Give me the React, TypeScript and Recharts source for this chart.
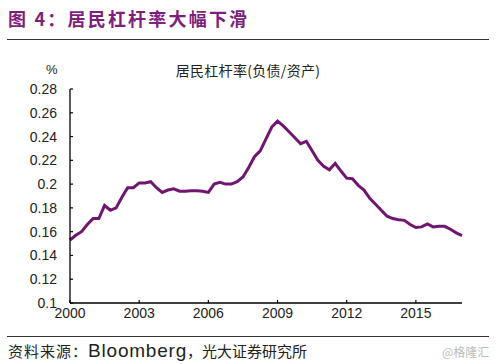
import React from "react";
import { LineChart, Line, XAxis, YAxis } from "recharts";

const quarters: string[] = [
  "2000Q1", "2000Q2", "2000Q3", "2000Q4",
  "2001Q1", "2001Q2", "2001Q3", "2001Q4",
  "2002Q1", "2002Q2", "2002Q3", "2002Q4",
  "2003Q1", "2003Q2", "2003Q3", "2003Q4",
  "2004Q1", "2004Q2", "2004Q3", "2004Q4",
  "2005Q1", "2005Q2", "2005Q3", "2005Q4",
  "2006Q1", "2006Q2", "2006Q3", "2006Q4",
  "2007Q1", "2007Q2", "2007Q3", "2007Q4",
  "2008Q1", "2008Q2", "2008Q3", "2008Q4",
  "2009Q1", "2009Q2", "2009Q3", "2009Q4",
  "2010Q1", "2010Q2", "2010Q3", "2010Q4",
  "2011Q1", "2011Q2", "2011Q3", "2011Q4",
  "2012Q1", "2012Q2", "2012Q3", "2012Q4",
  "2013Q1", "2013Q2", "2013Q3", "2013Q4",
  "2014Q1", "2014Q2", "2014Q3", "2014Q4",
  "2015Q1", "2015Q2", "2015Q3", "2015Q4",
  "2016Q1", "2016Q2", "2016Q3", "2016Q4",
  "2017Q1",
];

const leverage: number[] = [
  0.153, 0.157, 0.160, 0.166,
  0.171, 0.171, 0.182, 0.178,
  0.180, 0.189, 0.197, 0.197,
  0.201, 0.201, 0.202, 0.197,
  0.193, 0.195, 0.196, 0.194,
  0.194, 0.1945, 0.1945, 0.194,
  0.193, 0.200, 0.2015, 0.200,
  0.200, 0.202, 0.206, 0.214,
  0.223, 0.228, 0.238, 0.248,
  0.253, 0.249, 0.244, 0.239,
  0.234, 0.236, 0.228, 0.220,
  0.215, 0.212, 0.2175, 0.211,
  0.205, 0.2045, 0.199, 0.195,
  0.188, 0.183, 0.178, 0.173,
  0.171, 0.170, 0.1695, 0.166,
  0.1635, 0.164, 0.1665, 0.164,
  0.1645, 0.1645, 0.162, 0.159,
  0.1566,
];

const xTicks: string[] = ["2000Q1", "2003Q1", "2006Q1", "2009Q1", "2012Q1", "2015Q1"];
const yTicks: number[] = [0.1, 0.12, 0.14, 0.16, 0.18, 0.2, 0.22, 0.24, 0.26, 0.28];

const data = quarters.map((q, i) => ({ q, v: leverage[i] }));

const LATIN = "'Liberation Sans', Arial, sans-serif";
const CJK = "'Noto Sans CJK SC', 'Liberation Sans', sans-serif";

const XTick = (props: any) => {
  const { x, y, payload } = props;
  return (
    <g>
      <line x1={x} x2={x} y1={y} y2={y - 3} stroke="#000" strokeWidth={1.2} />
      <text x={x} y={y + 15} textAnchor="middle" fontSize={14} fontFamily={LATIN} fill="#222">
        {String(payload.value).slice(0, 4)}
      </text>
    </g>
  );
};

const YTick = (props: any) => {
  const { x, y, payload } = props;
  return (
    <g>
      <line x1={x} x2={x + 3} y1={y} y2={y} stroke="#000" strokeWidth={1.2} />
      <text x={x - 13} y={y + 5} textAnchor="end" fontSize={14} fontFamily={LATIN} fill="#222">
        {String(payload.value)}
      </text>
    </g>
  );
};

export default function App() {
  return (
    <div style={{ position: "absolute", left: 0, top: 0, width: 500, height: 364, background: "#fff", overflow: "hidden" }}>
      <div style={{ position: "absolute", left: 8, top: 6, fontSize: 18, fontWeight: 700, color: "#7e1f7e", fontFamily: CJK, letterSpacing: 2.2, whiteSpace: "nowrap", lineHeight: "24px" }}>
        图 4：居民杠杆率大幅下滑
      </div>
      <div style={{ position: "absolute", left: 7, top: 39, width: 482, height: 1, background: "#333" }} />
      <div style={{ position: "absolute", left: 46, top: 61, fontSize: 13, color: "#222", fontFamily: LATIN, lineHeight: "18px" }}>%</div>
      <div style={{ position: "absolute", left: 0, width: 496, top: 61, textAlign: "center", fontSize: 14, color: "#222", fontFamily: CJK, lineHeight: "18px", whiteSpace: "nowrap", letterSpacing: 0.3 }}>
        居民杠杆率(负债/资产)
      </div>
      <div style={{ position: "absolute", left: 0, top: 0 }}>
        <LineChart width={500} height={364} data={data} margin={{ top: 89, right: 38, bottom: 31, left: 10 }}>
          <XAxis
            dataKey="q"
            ticks={xTicks}
            interval={0}
            tick={<XTick />}
            tickLine={false}
            tickSize={0}
            tickMargin={0}
            height={30}
            axisLine={{ stroke: "#000", strokeWidth: 1.3 }}
          />
          <YAxis
            domain={[0.1, 0.28]}
            ticks={yTicks}
            interval={0}
            width={60}
            tick={<YTick />}
            tickLine={false}
            tickSize={0}
            tickMargin={0}
            axisLine={{ stroke: "#000", strokeWidth: 1.3 }}
          />
          <Line
            type="linear"
            dataKey="v"
            stroke="#701670"
            strokeWidth={3}
            dot={false}
            isAnimationActive={false}
          />
        </LineChart>
      </div>
      <div style={{ position: "absolute", left: 7, top: 336, width: 482, height: 1, background: "#333" }} />
      <div style={{ position: "absolute", left: 8, top: 340, fontSize: 15, color: "#222", fontFamily: CJK, lineHeight: "22px", whiteSpace: "nowrap" }}>
        <span style={{ letterSpacing: 1 }}>资料来源：</span>
        <span style={{ fontFamily: LATIN, fontSize: 19, letterSpacing: 0.8 }}>Bloomberg</span>
        <span>，光大证券研究所</span>
      </div>
      <div style={{ position: "absolute", left: 442, top: 344, fontSize: 12, color: "#bbb", fontFamily: CJK, lineHeight: "16px", whiteSpace: "nowrap" }}>
        @格隆汇
      </div>
    </div>
  );
}
